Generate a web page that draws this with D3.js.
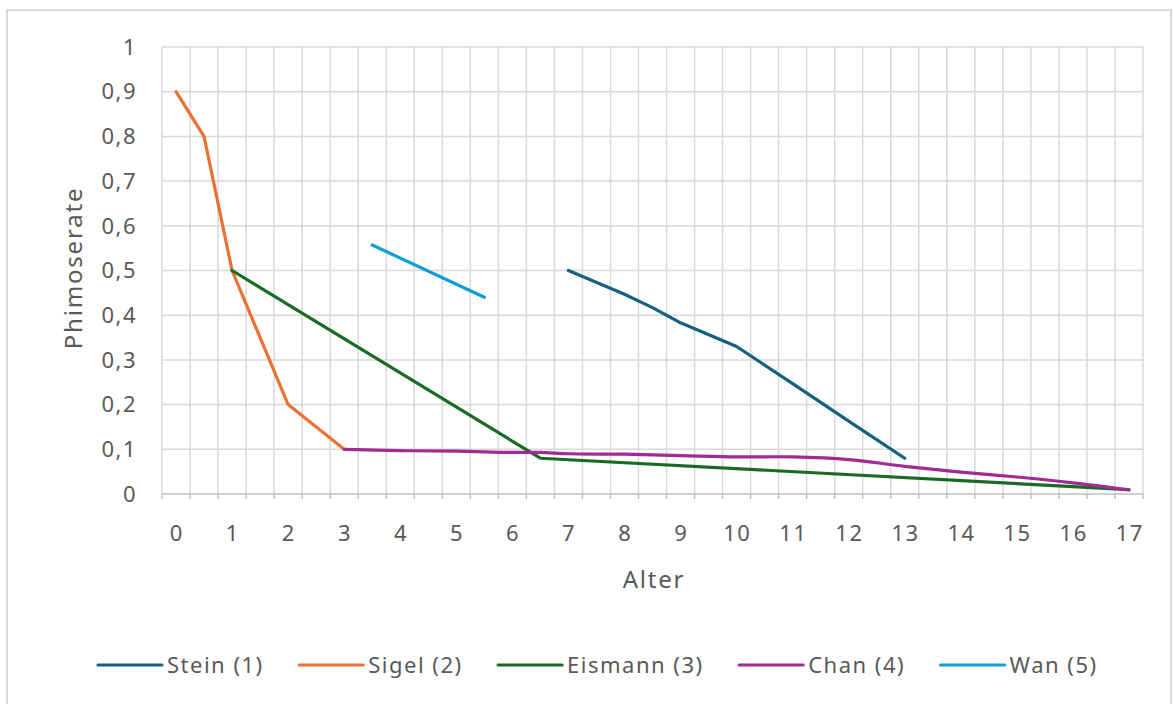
<!DOCTYPE html>
<html>
<head>
<meta charset="utf-8">
<script src="https://cdn.jsdelivr.net/npm/d3@7"></script>
<style>
  html, body { margin: 0; padding: 0; background: #ffffff; }
  svg { display: block; }
  text { font-family: "Noto Sans", "Open Sans", sans-serif; fill: #595959; }
</style>
</head>
<body>
<svg id="chart" width="1173" height="704"></svg>
<script>
// ---- data ----
const categories = ["0","0.5","1","1.5","2","2.5","3","3.5","4","4.5","5","5.5","6","6.5","7","7.5","8","8.5","9","9.5","10","10.5","11","11.5","12","12.5","13","13.5","14","14.5","15","15.5","16","16.5","17"];
const xTickLabels = ["0","1","2","3","4","5","6","7","8","9","10","11","12","13","14","15","16","17"];
const yTicks = [0, 0.1, 0.2, 0.3, 0.4, 0.5, 0.6, 0.7, 0.8, 0.9, 1];

const steinAges   = ["7","8","8.5","9","10","11","12","13"];
const steinValues = [0.50, 0.447, 0.417, 0.383, 0.33, 0.247, 0.163, 0.08];
const sigelAges   = ["0","0.5","1","2","3"];
const sigelValues = [0.90, 0.80, 0.50, 0.20, 0.10];
const eismannAges   = ["1","6.5","17"];
const eismannValues = [0.50, 0.08, 0.01];
const chanAges   = ["3","4","5","6","6.5","7","8","9","10","11","12","13","14","15","16","17"];
const chanValues = [0.10, 0.097, 0.096, 0.093, 0.093, 0.09, 0.089, 0.086, 0.083, 0.083, 0.077, 0.062, 0.049, 0.038, 0.025, 0.009];
const wanAges   = ["3.5","5.5"];
const wanValues = [0.557, 0.44];

const seriesNames = ["Stein (1)", "Sigel (2)", "Eismann (3)", "Chan (4)", "Wan (5)"];
const seriesColors = ["#156082", "#E97132", "#196B24", "#A02B93", "#0F9ED5"];

const series = [
  { name: seriesNames[0], color: seriesColors[0], ages: steinAges, values: steinValues, smooth: false },
  { name: seriesNames[1], color: seriesColors[1], ages: sigelAges, values: sigelValues, smooth: false },
  { name: seriesNames[2], color: seriesColors[2], ages: eismannAges, values: eismannValues, smooth: false },
  { name: seriesNames[3], color: seriesColors[3], ages: chanAges, values: chanValues, smooth: true },
  { name: seriesNames[4], color: seriesColors[4], ages: wanAges, values: wanValues, smooth: false }
];

// ---- layout ----
const svg = d3.select("#chart");
const plot = { left: 162, right: 1143, top: 47, bottom: 494 };
const LS = "1.5px";

// outer chart frame
svg.append("rect")
  .attr("x", 7).attr("y", 10).attr("width", 1164).attr("height", 700)
  .attr("fill", "#ffffff").attr("stroke", "#d9d9d9").attr("stroke-width", 2);

const x = d3.scaleBand().domain(categories).range([plot.left, plot.right]).padding(0);
const y = d3.scaleLinear().domain([0, 1]).range([plot.bottom, plot.top]);
const xc = d => x(d) + x.bandwidth() / 2;

// horizontal gridlines
svg.append("g").selectAll("line").data(yTicks.filter(d => d > 0)).join("line")
  .attr("x1", plot.left).attr("x2", plot.right)
  .attr("y1", d => y(d)).attr("y2", d => y(d))
  .attr("stroke", "#d9d9d9").attr("stroke-width", 1.5);

// vertical gridlines at category boundaries
const boundaries = categories.map(c => x(c)).concat([plot.right]);
svg.append("g").selectAll("line").data(boundaries).join("line")
  .attr("x1", d => d).attr("x2", d => d)
  .attr("y1", plot.top).attr("y2", plot.bottom)
  .attr("stroke", "#d9d9d9").attr("stroke-width", 1.5);

// x axis line + tick marks
svg.append("line")
  .attr("x1", plot.left).attr("x2", plot.right)
  .attr("y1", plot.bottom).attr("y2", plot.bottom)
  .attr("stroke", "#bfbfbf").attr("stroke-width", 1.5);
svg.append("g").selectAll("line").data(boundaries).join("line")
  .attr("x1", d => d).attr("x2", d => d)
  .attr("y1", plot.bottom).attr("y2", plot.bottom + 5)
  .attr("stroke", "#bfbfbf").attr("stroke-width", 1.5);

// x tick labels
svg.append("g").selectAll("text").data(xTickLabels).join("text")
  .attr("x", d => xc(d) + 0.75).attr("y", 541)
  .attr("text-anchor", "middle")
  .attr("font-size", 22).style("letter-spacing", LS)
  .text(d => d);

// y tick labels
const fmt = d => (d === 0 || d === 1) ? String(d) : d3.format(".1f")(d).replace(".", ",");
svg.append("g").selectAll("text").data(yTicks).join("text")
  .attr("x", 137).attr("y", d => y(d)).attr("dy", "0.35em")
  .attr("text-anchor", "end")
  .attr("font-size", 22).style("letter-spacing", LS)
  .text(fmt);

// axis titles
svg.append("text")
  .attr("x", 654).attr("y", 588)
  .attr("text-anchor", "middle").attr("font-size", 24).style("letter-spacing", "1.8px")
  .text("Alter");
svg.append("text")
  .attr("transform", "translate(82,268) rotate(-90)")
  .attr("text-anchor", "middle").attr("font-size", 24).style("letter-spacing", "1.8px")
  .text("Phimoserate");

// lines
const lineLinear = d3.line().x(d => xc(d[0])).y(d => y(d[1]));
const lineSmooth = d3.line().x(d => xc(d[0])).y(d => y(d[1])).curve(d3.curveCatmullRom.alpha(0.5));
svg.append("g").selectAll("path").data(series).join("path")
  .attr("d", s => (s.smooth ? lineSmooth : lineLinear)(s.ages.map((a, i) => [a, s.values[i]])))
  .attr("fill", "none")
  .attr("stroke", s => s.color)
  .attr("stroke-width", 3.2)
  .attr("stroke-linejoin", "round")
  .attr("stroke-linecap", "round");

// legend
const legend = svg.append("g");
let lx = 98;
const ly = 665;
series.forEach(s => {
  const g = legend.append("g");
  g.append("line")
    .attr("x1", lx).attr("x2", lx + 64)
    .attr("y1", ly).attr("y2", ly)
    .attr("stroke", s.color).attr("stroke-width", 3.2).attr("stroke-linecap", "round");
  const t = g.append("text")
    .attr("x", lx + 69).attr("y", ly).attr("dy", "0.35em")
    .attr("font-size", 22).style("letter-spacing", LS)
    .text(s.name);
  lx += 69 + t.node().getComputedTextLength() + 35.5;
});
</script>
</body>
</html>
